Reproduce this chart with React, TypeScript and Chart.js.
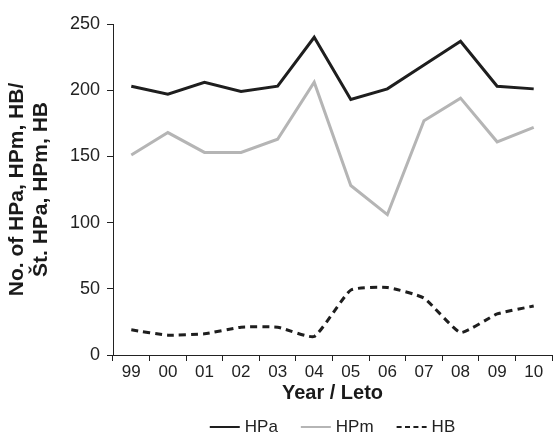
import React, { useEffect, useRef } from "react";
import { Chart, registerables } from "chart.js";

Chart.register(...registerables);

const categories = ["99", "00", "01", "02", "03", "04", "05", "06", "07", "08", "09", "10"];
const hpaValues = [203, 197, 206, 199, 203, 240, 193, 201, 219, 237, 203, 201];
const hpmValues = [151, 168, 153, 153, 163, 206, 128, 106, 177, 194, 161, 172];
const hbValues = [19, 15, 16, 21, 21, 14, 49, 51, 43, 17, 31, 37];
const yTitleLines = ["No. of HPa, HPm, HB/", "Št. HPa, HPm, HB"];
const xTitle = "Year / Leto";

const FONT = "'Liberation Sans', Arial, sans-serif";

const bottomLegend = {
  id: "bottomLegend",
  afterDraw(chart: any) {
    const { ctx, chartArea } = chart;
    const sets = chart.data.datasets;
    const lineLen = 30;
    const gapText = 5;
    const gapItem = 23;
    ctx.save();
    ctx.font = `17px ${FONT}`;
    const widths = sets.map((d: any) => ctx.measureText(d.label).width);
    let total = 0;
    widths.forEach((w: number, i: number) => {
      total += lineLen + gapText + w + (i < widths.length - 1 ? gapItem : 0);
    });
    let x = (chartArea.left + chartArea.right) / 2 - total / 2;
    const y = 427;
    sets.forEach((d: any, i: number) => {
      ctx.beginPath();
      ctx.strokeStyle = d.borderColor;
      ctx.lineWidth = 2;
      ctx.setLineDash(d.borderDash ? [5, 3.4] : []);
      ctx.moveTo(x, y);
      ctx.lineTo(x + lineLen, y);
      ctx.stroke();
      ctx.setLineDash([]);
      ctx.fillStyle = "#222";
      ctx.textBaseline = "middle";
      ctx.textAlign = "left";
      ctx.fillText(d.label, x + lineLen + gapText, y);
      x += lineLen + gapText + widths[i] + gapItem;
    });
    ctx.restore();
  },
};

export default function App() {
  const ref = useRef<HTMLCanvasElement>(null);
  useEffect(() => {
    if (!ref.current) return;
    const chart = new Chart(ref.current, {
      type: "line",
      data: {
        labels: categories,
        datasets: [
          {
            label: "HPa",
            data: hpaValues,
            borderColor: "#1e1e1e",
            backgroundColor: "#1e1e1e",
            borderWidth: 3,
            pointRadius: 0,
            tension: 0,
          },
          {
            label: "HPm",
            data: hpmValues,
            borderColor: "#b5b5b5",
            backgroundColor: "#b5b5b5",
            borderWidth: 3,
            pointRadius: 0,
            tension: 0,
          },
          {
            label: "HB",
            data: hbValues,
            borderColor: "#1e1e1e",
            backgroundColor: "#1e1e1e",
            borderWidth: 3,
            borderDash: [7, 5],
            pointRadius: 0,
            tension: 0.15,
          },
        ],
      },
      options: {
        responsive: false,
        animation: false,
        layout: { padding: { top: 24, right: 1, left: 0, bottom: 30 } },
        plugins: {
          tooltip: { enabled: false },
          legend: { display: false },
        },
        scales: {
          x: {
            offset: true,
            afterFit: (s: any) => {
              s.height = 50;
            },
            grid: {
              display: true,
              drawOnChartArea: false,
              offset: true,
              color: "#222",
              tickLength: 6,
            },
            border: { display: true, color: "#222", width: 1 },
            ticks: {
              color: "#222",
              padding: 1,
              maxRotation: 0,
              font: { family: FONT, size: 17 },
            },
            title: {
              display: true,
              text: xTitle,
              color: "#1a1a1a",
              padding: { top: 0, bottom: 0 },
              font: { family: FONT, size: 20, weight: "bold" },
            },
          },
          y: {
            min: 0,
            max: 250,
            afterFit: (s: any) => {
              s.width = 113;
            },
            grid: {
              display: true,
              drawOnChartArea: false,
              color: "#222",
              tickLength: 6,
            },
            border: { display: true, color: "#222", width: 1 },
            ticks: {
              stepSize: 50,
              color: "#222",
              padding: 7,
              font: { family: FONT, size: 18 },
            },
            title: {
              display: true,
              text: yTitleLines,
              color: "#1a1a1a",
              padding: { top: 5, bottom: 0 },
              font: { family: FONT, size: 21, weight: "bold", lineHeight: 1.14 },
            },
          },
        },
      },
      plugins: [bottomLegend],
    });
    return () => chart.destroy();
  }, []);
  return (
    <div style={{ position: "absolute", left: 0, top: 0, width: 553, height: 435, background: "#fff" }}>
      <canvas ref={ref} width={553} height={435} style={{ width: 553, height: 435 }} />
    </div>
  );
}
